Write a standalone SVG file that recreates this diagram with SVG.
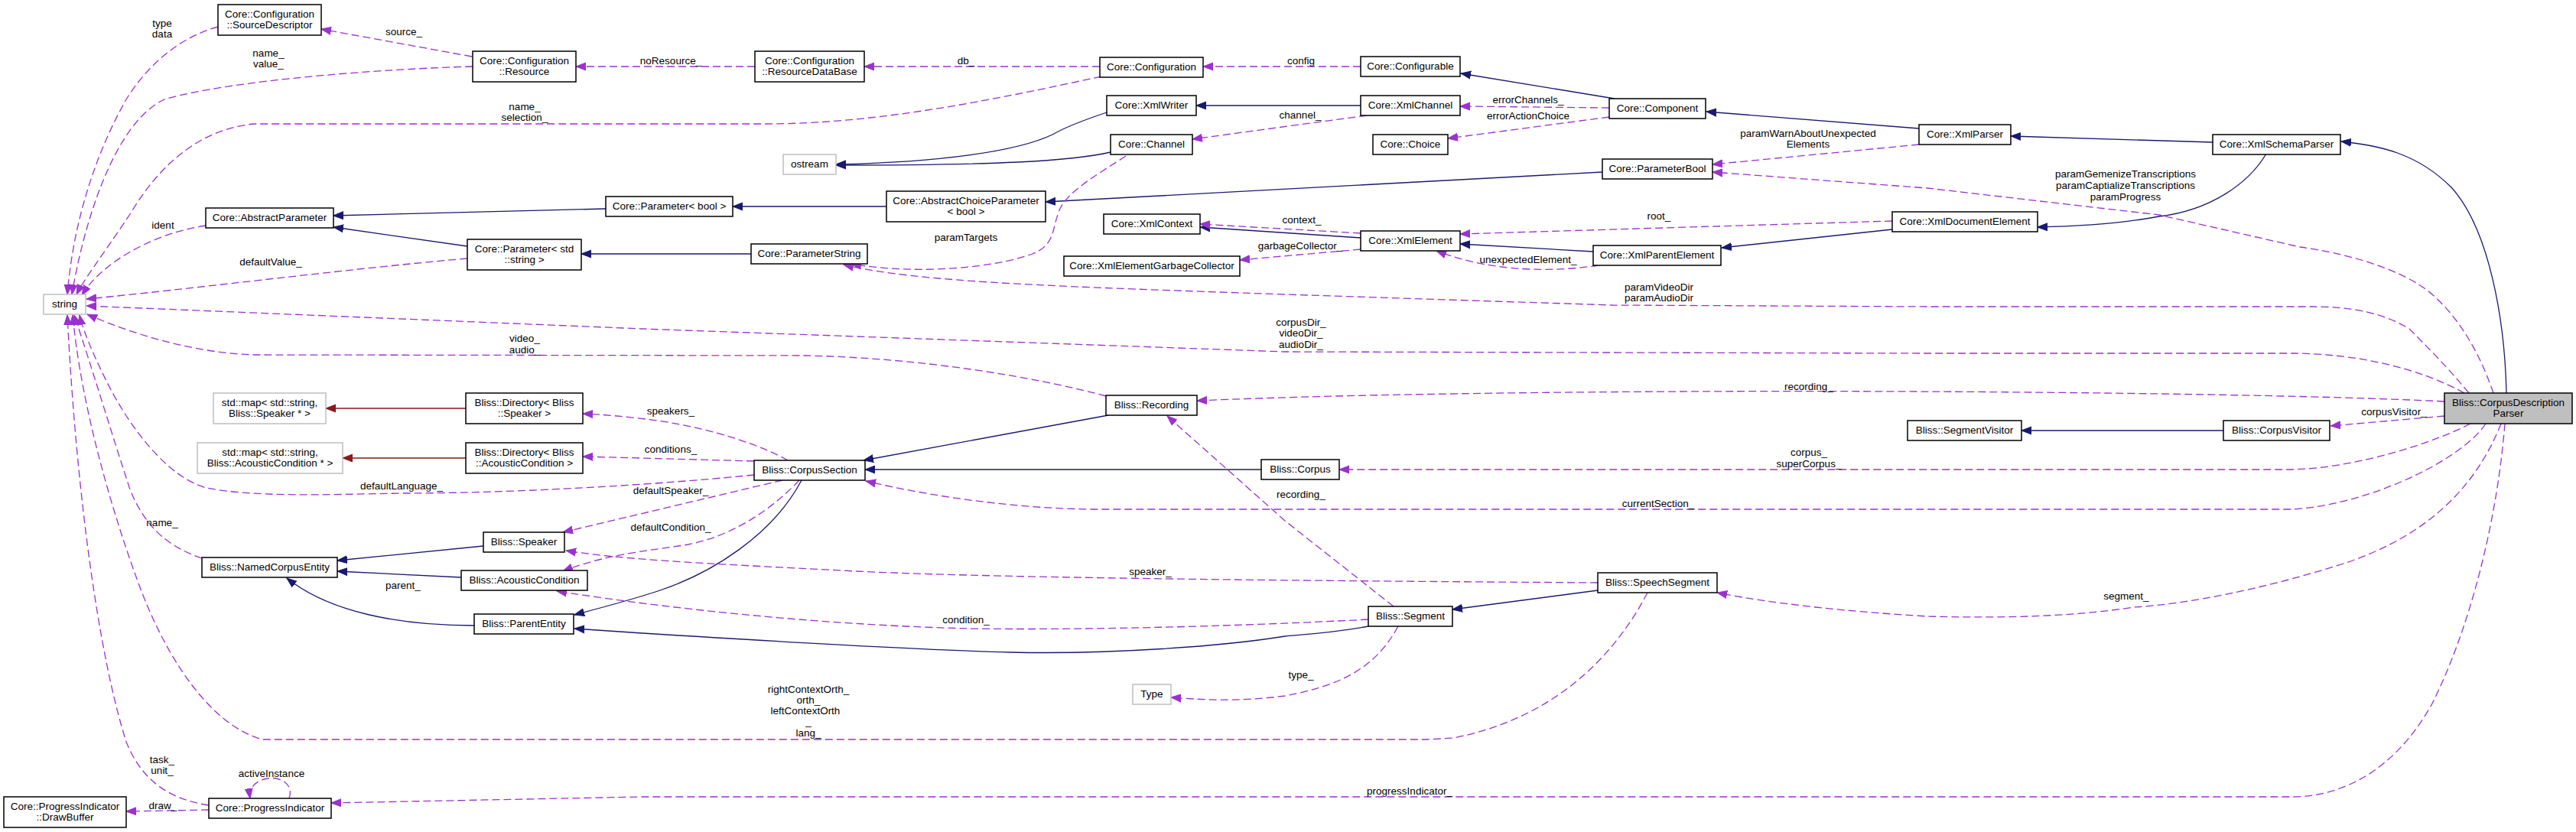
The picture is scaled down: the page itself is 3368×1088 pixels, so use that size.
<svg xmlns="http://www.w3.org/2000/svg" width="3368" height="1088" viewBox="0 0 3368 1088">
<style>
text{font-family:"Liberation Sans",Arial,Helvetica,sans-serif;font-size:13.5px;fill:#000;text-anchor:middle}
.n rect{fill:#fff;stroke:#000;stroke-width:1.5}
.g rect{fill:#fff;stroke:#bfbfbf;stroke-width:1.5}
.cur rect{fill:#bfbfbf;stroke:#000;stroke-width:1.5}
.inh{fill:none;stroke:#191970;stroke-width:1.3}
.tpl{fill:none;stroke:#8b1a1a;stroke-width:1.3}
.use{fill:none;stroke:#9a32cd;stroke-width:1.3;stroke-dasharray:10,5}
</style>
<defs>
<marker id="mb" markerUnits="userSpaceOnUse" markerWidth="14" markerHeight="12" viewBox="0 -6 14 12" refX="13" refY="0" orient="auto"><path d="M0,-5L13,0L0,5Z" fill="#191970" stroke="#191970"/></marker>
<marker id="mp" markerUnits="userSpaceOnUse" markerWidth="14" markerHeight="12" viewBox="0 -6 14 12" refX="13" refY="0" orient="auto"><path d="M0,-5L13,0L0,5Z" fill="#9a32cd" stroke="#9a32cd"/></marker>
<marker id="mr" markerUnits="userSpaceOnUse" markerWidth="14" markerHeight="12" viewBox="0 -6 14 12" refX="13" refY="0" orient="auto"><path d="M0,-5L13,0L0,5Z" fill="#8b1a1a" stroke="#8b1a1a"/></marker>
</defs>
<rect width="3368" height="1088" fill="#fff"/>
<g id="connectors">
<g marker-end="url(#mb)">
<path class="inh" d="M2111,129 L1910,96"/>
<path class="inh" d="M2509,168 L2231,146"/>
<path class="inh" d="M2893,186 L2629,178"/>
<path class="inh" d="M3277,514 C3275,420 3255,300 3205,245 C3160,200 3110,190 3061,185"/>
<path class="inh" d="M2963,201 C2940,240 2890,275 2823,283 C2770,293 2720,296 2664,297"/>
<path class="inh" d="M2474,300 L2251,324"/>
<path class="inh" d="M2083,329 L1909,319"/>
<path class="inh" d="M1779,311 L1569,297"/>
<path class="inh" d="M1779,138 L1564,138"/>
<path class="inh" d="M1447,147 C1420,156 1395,165 1376,176 C1330,198 1230,212 1093,215"/>
<path class="inh" d="M1452,199 C1400,211 1300,216 1093,216"/>
<path class="inh" d="M1159,270 L958,270"/>
<path class="inh" d="M2095,225 L1367,264"/>
<path class="inh" d="M792,273 L436,282"/>
<path class="inh" d="M611,322 L436,297"/>
<path class="inh" d="M982,332 L760,332"/>
<path class="inh" d="M1449,543 L1129,602"/>
<path class="inh" d="M1649,614 L1131,614"/>
<path class="inh" d="M1048,628 C1010,700 930,750 860,773 C820,786 785,795 751,804"/>
<path class="inh" d="M632,714 L441,733"/>
<path class="inh" d="M603,755 L441,747"/>
<path class="inh" d="M620,818 C520,818 430,800 375,756"/>
<path class="inh" d="M1789,819 C1740,828 1700,830 1680,832 C1600,845 1450,856 1322,853 C1200,850 1000,838 840,828 L751,822"/>
<path class="inh" d="M2089,772 L1899,797"/>
<path class="inh" d="M2907,563 L2643,563"/>
</g>
<g marker-end="url(#mr)">
<path class="tpl" d="M609,534 L426,534"/>
<path class="tpl" d="M609,599 L448,599"/>
</g>
<g marker-end="url(#mp)">
<path class="use" d="M285,35 C230,50 190,90 165,130 C120,210 95,300 88,385"/>
<path class="use" d="M617,74 L420,38"/>
<path class="use" d="M618,87 C500,90 300,105 215,130 C150,160 110,290 94,385"/>
<path class="use" d="M987,87 L753,87"/>
<path class="use" d="M1438,87 L1130,87"/>
<path class="use" d="M1779,87 L1573,87"/>
<path class="use" d="M1440,100 C1300,130 1150,162 1000,162 L332,162 C250,170 200,230 170,280 C130,340 110,365 100,385"/>
<path class="use" d="M269,295 C220,302 170,325 140,350 C125,362 115,373 107,386"/>
<path class="use" d="M611,338 C450,352 250,378 113,391"/>
<path class="use" d="M3222,514 C3160,480 3080,463 3000,462 L2520,462 L1680,460 L840,430 L113,400"/>
<path class="use" d="M1446,518 C1350,492 1200,468 1054,465 L332,464 C260,462 180,440 114,411"/>
<path class="use" d="M1472,204 C1440,225 1395,250 1385,275 C1375,300 1380,320 1350,332 C1300,350 1200,360 1113,345"/>
<path class="use" d="M3228,514 C3200,480 3170,450 3150,430 C3110,405 3060,401 3023,401 L2520,401 L2108,399 L1680,385 C1400,375 1200,370 1103,346"/>
<path class="use" d="M2509,189 L2239,215"/>
<path class="use" d="M3260,514 C3245,470 3220,420 3180,385 C3140,350 3060,330 3007,323 L2823,281 L2520,246 L2239,225"/>
<path class="use" d="M1787,151 L1559,182"/>
<path class="use" d="M2104,141 L1909,139"/>
<path class="use" d="M2104,153 L1893,181"/>
<path class="use" d="M1779,305 L1569,293"/>
<path class="use" d="M1779,326 L1621,340"/>
<path class="use" d="M2474,289 L1909,306"/>
<path class="use" d="M2090,347 C2030,356 1950,356 1878,328"/>
<path class="use" d="M3196,525 C2900,510 2000,505 1565,524"/>
<path class="use" d="M1030,602 C1000,585 940,562 860,550 C820,545 790,542 762,541"/>
<path class="use" d="M986,603 L762,597"/>
<path class="use" d="M986,621 C900,630 700,645 525,645 C420,647 330,650 270,638 C220,625 170,560 140,500 C120,460 108,430 104,412"/>
<path class="use" d="M1023,628 L736,696"/>
<path class="use" d="M1045,628 C1010,665 960,700 900,712 C850,720 790,725 736,747"/>
<path class="use" d="M2089,762 C1800,760 1300,757 1100,746 C950,738 820,733 740,720"/>
<path class="use" d="M1789,810 C1600,820 1400,824 1268,822 C1100,818 900,800 728,773"/>
<path class="use" d="M1822,793 L1680,681 L1526,544"/>
<path class="use" d="M1828,819 C1800,870 1760,895 1680,910 C1620,918 1570,915 1531,912"/>
<path class="use" d="M3250,554 C3220,600 3100,660 2996,666 L1429,666 C1330,665 1220,650 1132,629"/>
<path class="use" d="M3230,554 C3180,580 3080,612 2996,614 L1751,614"/>
<path class="use" d="M3196,544 L3047,557"/>
<path class="use" d="M3270,554 C3240,630 3180,700 3061,738 C2960,770 2860,790 2790,794 C2700,808 2600,808 2520,806 C2420,800 2320,790 2245,775"/>
<path class="use" d="M3275,554 C3265,680 3230,820 3180,920 C3130,1010 3060,1042 2996,1042 L840,1042 L433,1050"/>
<path class="use" d="M2154,775 C2110,860 2030,940 1900,965 L1867,967 L343,967 C280,950 220,870 180,760 C140,650 105,520 95,412"/>
<path class="use" d="M264,730 C220,715 190,690 170,640 C150,580 120,480 97,412"/>
<path class="use" d="M273,1053 C220,1045 185,1020 165,970 C130,860 100,650 88,412"/>
<path class="use" d="M273,1059 L165,1061"/>
<path class="use" d="M378,1044 C385,1025 365,1015 350,1018 C335,1020 325,1030 327,1044"/>
</g>
<g id="edge-labels">
<text x="212" y="35">type</text><text x="212" y="49">data</text>
<text x="528" y="46">source_</text>
<text x="351" y="74">name_</text><text x="351" y="88">value_</text>
<text x="877" y="84">noResource_</text>
<text x="1263" y="84">db_</text>
<text x="1701" y="84">config</text>
<text x="686" y="144">name_</text><text x="686" y="158">selection_</text>
<text x="1700" y="155">channel_</text>
<text x="1998" y="135">errorChannels_</text>
<text x="1998" y="156">errorActionChoice</text>
<text x="2364" y="179">paramWarnAboutUnexpected</text><text x="2364" y="193">Elements</text>
<text x="2779" y="232">paramGemenizeTranscriptions</text><text x="2779" y="247">paramCaptializeTranscriptions</text><text x="2779" y="262">paramProgress</text>
<text x="213" y="299">ident</text>
<text x="1702" y="292">context_</text>
<text x="2169" y="287">root_</text>
<text x="1263" y="315">paramTargets</text>
<text x="1700" y="326">garbageCollector_</text>
<text x="1998" y="344">unexpectedElement_</text>
<text x="354" y="347">defaultValue_</text>
<text x="2169" y="380">paramVideoDir</text><text x="2169" y="394">paramAudioDir</text>
<text x="1701" y="426">corpusDir_</text><text x="1701" y="440">videoDir_</text><text x="1701" y="455">audioDir_</text>
<text x="686" y="447">video_</text><text x="686" y="462">audio_</text>
<text x="2365" y="510">recording_</text>
<text x="877" y="542">speakers_</text>
<text x="3130" y="543">corpusVisitor_</text>
<text x="877" y="592">conditions_</text>
<text x="2365" y="596">corpus_</text><text x="2365" y="611">superCorpus_</text>
<text x="525" y="640">defaultLanguage_</text>
<text x="877" y="646">defaultSpeaker_</text>
<text x="1701" y="651">recording_</text>
<text x="2168" y="663">currentSection_</text>
<text x="212" y="688">name_</text>
<text x="877" y="694">defaultCondition_</text>
<text x="1504" y="752">speaker_</text>
<text x="527" y="770">parent_</text>
<text x="2780" y="784">segment_</text>
<text x="1263" y="815">condition_</text>
<text x="1701" y="887">type_</text>
<text x="1057" y="906">rightContextOrth_</text><text x="1057" y="920">orth_</text><text x="1053" y="934">leftContextOrth</text><text x="1057" y="948">_</text><text x="1057" y="963">lang_</text>
<text x="212" y="998">task_</text><text x="212" y="1012">unit_</text>
<text x="355" y="1016">activeInstance</text>
<text x="1843" y="1039">progressIndicator_</text>
<text x="213" y="1058">draw_</text>
</g>
</g>
<g id="n_srcdesc" class="n"><rect x="285" y="6" width="135" height="40"/><text x="352.5" y="22.5">Core::Configuration</text><text x="352.5" y="37">::SourceDescriptor</text></g>
<g id="n_resource" class="n"><rect x="618" y="67" width="135" height="40"/><text x="685.5" y="83.5">Core::Configuration</text><text x="685.5" y="98">::Resource</text></g>
<g id="n_rdb" class="n"><rect x="987" y="67" width="143" height="40"/><text x="1058.5" y="83.5">Core::Configuration</text><text x="1058.5" y="98">::ResourceDataBase</text></g>
<g id="n_config" class="n"><rect x="1438" y="75" width="135" height="26"/><text x="1505.5" y="92">Core::Configuration</text></g>
<g id="n_configurable" class="n"><rect x="1779" y="74" width="130" height="26"/><text x="1844" y="91">Core::Configurable</text></g>
<g id="n_component" class="n"><rect x="2104" y="129" width="126" height="26"/><text x="2167" y="146">Core::Component</text></g>
<g id="n_xmlwriter" class="n"><rect x="1447" y="125" width="117" height="26"/><text x="1505.5" y="142">Core::XmlWriter</text></g>
<g id="n_xmlchannel" class="n"><rect x="1779" y="125" width="130" height="26"/><text x="1844" y="142">Core::XmlChannel</text></g>
<g id="n_channel" class="n"><rect x="1452" y="176" width="107" height="26"/><text x="1505.5" y="193">Core::Channel</text></g>
<g id="n_choice" class="n"><rect x="1795" y="176" width="98" height="26"/><text x="1844" y="193">Core::Choice</text></g>
<g id="n_ostream" class="g"><rect x="1024" y="202" width="69" height="26"/><text x="1058.5" y="219">ostream</text></g>
<g id="n_parameterbool" class="n"><rect x="2095" y="208" width="144" height="26"/><text x="2167" y="225">Core::ParameterBool</text></g>
<g id="n_xmlparser" class="n"><rect x="2509" y="163" width="120" height="26"/><text x="2569" y="180">Core::XmlParser</text></g>
<g id="n_xmlschemaparser" class="n"><rect x="2893" y="176" width="167" height="26"/><text x="2976.5" y="193">Core::XmlSchemaParser</text></g>
<g id="n_abstractparameter" class="n"><rect x="269" y="272" width="167" height="26"/><text x="352.5" y="289">Core::AbstractParameter</text></g>
<g id="n_parameter_bool" class="n"><rect x="792" y="257" width="166" height="26"/><text x="875" y="274">Core::Parameter&lt; bool &gt;</text></g>
<g id="n_abstractchoice" class="n"><rect x="1159" y="250" width="208" height="40"/><text x="1263" y="266.5">Core::AbstractChoiceParameter</text><text x="1263" y="281">&lt; bool &gt;</text></g>
<g id="n_xmlcontext" class="n"><rect x="1443" y="280" width="126" height="26"/><text x="1506" y="297">Core::XmlContext</text></g>
<g id="n_xmlelement" class="n"><rect x="1779" y="302" width="130" height="26"/><text x="1844" y="319">Core::XmlElement</text></g>
<g id="n_xmldocumentelement" class="n"><rect x="2474" y="277" width="190" height="26"/><text x="2569" y="294">Core::XmlDocumentElement</text></g>
<g id="n_garbagecollector" class="n"><rect x="1391" y="335" width="230" height="26"/><text x="1506" y="352">Core::XmlElementGarbageCollector</text></g>
<g id="n_xmlparentelement" class="n"><rect x="2083" y="321" width="167" height="26"/><text x="2166.5" y="338">Core::XmlParentElement</text></g>
<g id="n_parameterstring" class="n"><rect x="982" y="319" width="152" height="26"/><text x="1058" y="336">Core::ParameterString</text></g>
<g id="n_parameter_string" class="n"><rect x="611" y="313" width="149" height="40"/><text x="685.5" y="329.5">Core::Parameter&lt; std</text><text x="685.5" y="344">::string &gt;</text></g>
<g id="n_string" class="g"><rect x="57" y="385" width="55" height="26"/><text x="84.5" y="402">string</text></g>
<g id="n_map_speaker" class="g"><rect x="279" y="514" width="147" height="40"/><text x="352.5" y="530.5">std::map&lt; std::string,</text><text x="352.5" y="545">Bliss::Speaker * &gt;</text></g>
<g id="n_dir_speaker" class="n"><rect x="609" y="514" width="153" height="40"/><text x="685.5" y="530.5">Bliss::Directory&lt; Bliss</text><text x="685.5" y="545">::Speaker &gt;</text></g>
<g id="n_recording" class="n"><rect x="1446" y="517" width="119" height="26"/><text x="1505.5" y="534">Bliss::Recording</text></g>
<g id="n_map_condition" class="g"><rect x="258" y="579" width="190" height="40"/><text x="353" y="595.5">std::map&lt; std::string,</text><text x="353" y="610">Bliss::AcousticCondition * &gt;</text></g>
<g id="n_dir_condition" class="n"><rect x="609" y="579" width="153" height="40"/><text x="685.5" y="595.5">Bliss::Directory&lt; Bliss</text><text x="685.5" y="610">::AcousticCondition &gt;</text></g>
<g id="n_corpussection" class="n"><rect x="986" y="602" width="145" height="26"/><text x="1058.5" y="619">Bliss::CorpusSection</text></g>
<g id="n_corpus" class="n"><rect x="1649" y="601" width="102" height="26"/><text x="1700" y="618">Bliss::Corpus</text></g>
<g id="n_segmentvisitor" class="n"><rect x="2494" y="550" width="149" height="26"/><text x="2568.5" y="567">Bliss::SegmentVisitor</text></g>
<g id="n_corpusvisitor" class="n"><rect x="2907" y="550" width="139" height="26"/><text x="2976.5" y="567">Bliss::CorpusVisitor</text></g>
<g id="n_corpusdescriptionparser" class="cur"><rect x="3196" y="514" width="167" height="40"/><text x="3279.5" y="530.5">Bliss::CorpusDescription</text><text x="3279.5" y="545">Parser</text></g>
<g id="n_speaker" class="n"><rect x="632" y="696" width="106" height="26"/><text x="685" y="713">Bliss::Speaker</text></g>
<g id="n_namedcorpusentity" class="n"><rect x="264" y="729" width="177" height="26"/><text x="352.5" y="746">Bliss::NamedCorpusEntity</text></g>
<g id="n_acousticcondition" class="n"><rect x="603" y="746" width="165" height="26"/><text x="685.5" y="763">Bliss::AcousticCondition</text></g>
<g id="n_parententity" class="n"><rect x="620" y="803" width="130" height="26"/><text x="685" y="820">Bliss::ParentEntity</text></g>
<g id="n_speechsegment" class="n"><rect x="2089" y="749" width="156" height="26"/><text x="2167" y="766">Bliss::SpeechSegment</text></g>
<g id="n_segment" class="n"><rect x="1789" y="793" width="110" height="26"/><text x="1844" y="810">Bliss::Segment</text></g>
<g id="n_type" class="g"><rect x="1481" y="895" width="50" height="26"/><text x="1506" y="912">Type</text></g>
<g id="n_progressindicator" class="n"><rect x="273" y="1044" width="160" height="26"/><text x="353" y="1061">Core::ProgressIndicator</text></g>
<g id="n_drawbuffer" class="n"><rect x="5" y="1042" width="160" height="40"/><text x="85" y="1058.5">Core::ProgressIndicator</text><text x="85" y="1073">::DrawBuffer</text></g>
</svg>
